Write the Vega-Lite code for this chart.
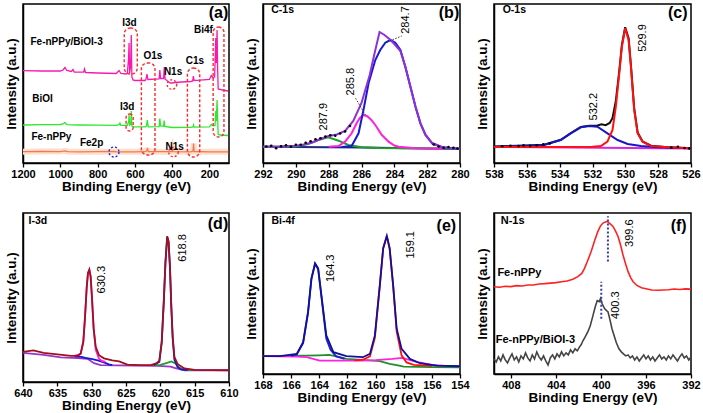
{
"$schema": "https://vega.github.io/schema/vega-lite/v6.json",
"padding": {"left": 3, "top": 3, "right": 0, "bottom": 0},
"config": {
 "view": {"stroke": "black", "strokeWidth": 1.5},
 "font": "Liberation Sans",
 "text": {"color": "black", "font": "Liberation Sans"},
 "axis": {"grid": false, "domainColor": "black", "domainWidth": 1.5, "tickColor": "black", "tickWidth": 1.3, "tickSize": 4, "labelFont": "Liberation Sans", "labelFontWeight": "bold", "labelFontSize": 11, "labelColor": "black", "titleFont": "Liberation Sans", "titleFontWeight": "bold", "titleFontSize": 13.5, "titleColor": "black"},
 "axisX": {"labelPadding": 1, "titlePadding": 0, "labelFlush": false, "labelOverlap": false, "format": "d"},
 "axisY": {"labels": false, "ticks": false, "titlePadding": 5}
},
"datasets": {
 "a": [
  {"x":1200,"y":11.3,"s":"Fe-nPPy"},{"x":1100,"y":11.5,"s":"Fe-nPPy"},{"x":1000,"y":11.4,"s":"Fe-nPPy"},{"x":975,"y":12.2,"s":"Fe-nPPy"},{"x":960,"y":11.3,"s":"Fe-nPPy"},{"x":900,"y":11.2,"s":"Fe-nPPy"},{"x":800,"y":11.3,"s":"Fe-nPPy"},{"x":712,"y":11.6,"s":"Fe-nPPy"},{"x":700,"y":11.2,"s":"Fe-nPPy"},{"x":600,"y":11.2,"s":"Fe-nPPy"},{"x":545,"y":11.3,"s":"Fe-nPPy"},{"x":535,"y":12.5,"s":"Fe-nPPy"},{"x":532,"y":15,"s":"Fe-nPPy"},{"x":529,"y":11.5,"s":"Fe-nPPy"},{"x":500,"y":11.3,"s":"Fe-nPPy"},{"x":402,"y":11.4,"s":"Fe-nPPy"},{"x":399,"y":13.5,"s":"Fe-nPPy"},{"x":396,"y":11.3,"s":"Fe-nPPy"},{"x":300,"y":11.2,"s":"Fe-nPPy"},{"x":288,"y":12,"s":"Fe-nPPy"},{"x":285,"y":19.5,"s":"Fe-nPPy"},{"x":282,"y":11.5,"s":"Fe-nPPy"},{"x":200,"y":11.2,"s":"Fe-nPPy"},{"x":100,"y":11.2,"s":"Fe-nPPy"},
  {"x":1200,"y":38,"s":"BiOI"},{"x":1100,"y":38.3,"s":"BiOI"},{"x":1000,"y":38.5,"s":"BiOI"},{"x":985,"y":39,"s":"BiOI"},{"x":975,"y":40.5,"s":"BiOI"},{"x":965,"y":38.3,"s":"BiOI"},{"x":900,"y":38,"s":"BiOI"},{"x":800,"y":37.8,"s":"BiOI"},{"x":700,"y":37.6,"s":"BiOI"},{"x":685,"y":38.3,"s":"BiOI"},{"x":680,"y":40,"s":"BiOI"},{"x":675,"y":37.6,"s":"BiOI"},{"x":640,"y":37.6,"s":"BiOI"},{"x":633,"y":42,"s":"BiOI"},{"x":631,"y":48,"s":"BiOI"},{"x":628,"y":38,"s":"BiOI"},{"x":622,"y":39,"s":"BiOI"},{"x":619,"y":52,"s":"BiOI"},{"x":616,"y":37,"s":"BiOI"},{"x":610,"y":36.3,"s":"BiOI"},{"x":600,"y":36.2,"s":"BiOI"},{"x":545,"y":36.2,"s":"BiOI"},{"x":538,"y":37,"s":"BiOI"},{"x":533,"y":43,"s":"BiOI"},{"x":528,"y":36.2,"s":"BiOI"},{"x":470,"y":36.4,"s":"BiOI"},{"x":466,"y":44.5,"s":"BiOI"},{"x":462,"y":37,"s":"BiOI"},{"x":446,"y":36.8,"s":"BiOI"},{"x":443,"y":42.5,"s":"BiOI"},{"x":439,"y":36.5,"s":"BiOI"},{"x":400,"y":35.5,"s":"BiOI"},{"x":300,"y":35.6,"s":"BiOI"},{"x":288,"y":36,"s":"BiOI"},{"x":285,"y":38,"s":"BiOI"},{"x":282,"y":35.8,"s":"BiOI"},{"x":200,"y":36.2,"s":"BiOI"},{"x":190,"y":38.5,"s":"BiOI"},{"x":180,"y":37.2,"s":"BiOI"},{"x":170,"y":37.5,"s":"BiOI"},{"x":166,"y":52,"s":"BiOI"},{"x":163,"y":42,"s":"BiOI"},{"x":159,"y":63,"s":"BiOI"},{"x":156,"y":45,"s":"BiOI"},{"x":153,"y":28.5,"s":"BiOI"},{"x":140,"y":28,"s":"BiOI"},{"x":100,"y":27.5,"s":"BiOI"},
  {"x":1200,"y":92.3,"s":"Fe-nPPy/BiOI-3"},{"x":1100,"y":92,"s":"Fe-nPPy/BiOI-3"},{"x":1000,"y":92,"s":"Fe-nPPy/BiOI-3"},{"x":985,"y":93,"s":"Fe-nPPy/BiOI-3"},{"x":975,"y":95.5,"s":"Fe-nPPy/BiOI-3"},{"x":965,"y":92.5,"s":"Fe-nPPy/BiOI-3"},{"x":940,"y":91.5,"s":"Fe-nPPy/BiOI-3"},{"x":932,"y":93.5,"s":"Fe-nPPy/BiOI-3"},{"x":925,"y":91,"s":"Fe-nPPy/BiOI-3"},{"x":875,"y":90.8,"s":"Fe-nPPy/BiOI-3"},{"x":870,"y":94,"s":"Fe-nPPy/BiOI-3"},{"x":865,"y":90.5,"s":"Fe-nPPy/BiOI-3"},{"x":800,"y":90,"s":"Fe-nPPy/BiOI-3"},{"x":700,"y":89.5,"s":"Fe-nPPy/BiOI-3"},{"x":685,"y":92.5,"s":"Fe-nPPy/BiOI-3"},{"x":675,"y":89.5,"s":"Fe-nPPy/BiOI-3"},{"x":645,"y":89,"s":"Fe-nPPy/BiOI-3"},{"x":640,"y":90,"s":"Fe-nPPy/BiOI-3"},{"x":634,"y":104,"s":"Fe-nPPy/BiOI-3"},{"x":631,"y":120,"s":"Fe-nPPy/BiOI-3"},{"x":628,"y":90,"s":"Fe-nPPy/BiOI-3"},{"x":623,"y":96,"s":"Fe-nPPy/BiOI-3"},{"x":619,"y":128,"s":"Fe-nPPy/BiOI-3"},{"x":616,"y":86,"s":"Fe-nPPy/BiOI-3"},{"x":610,"y":83,"s":"Fe-nPPy/BiOI-3"},{"x":600,"y":82.5,"s":"Fe-nPPy/BiOI-3"},{"x":545,"y":82.5,"s":"Fe-nPPy/BiOI-3"},{"x":540,"y":84,"s":"Fe-nPPy/BiOI-3"},{"x":535,"y":89,"s":"Fe-nPPy/BiOI-3"},{"x":530,"y":83.5,"s":"Fe-nPPy/BiOI-3"},{"x":470,"y":84,"s":"Fe-nPPy/BiOI-3"},{"x":466,"y":93,"s":"Fe-nPPy/BiOI-3"},{"x":462,"y":84.5,"s":"Fe-nPPy/BiOI-3"},{"x":446,"y":84.5,"s":"Fe-nPPy/BiOI-3"},{"x":442,"y":96,"s":"Fe-nPPy/BiOI-3"},{"x":438,"y":84,"s":"Fe-nPPy/BiOI-3"},{"x":425,"y":82,"s":"Fe-nPPy/BiOI-3"},{"x":410,"y":80,"s":"Fe-nPPy/BiOI-3"},{"x":400,"y":80,"s":"Fe-nPPy/BiOI-3"},{"x":385,"y":80.5,"s":"Fe-nPPy/BiOI-3"},{"x":350,"y":81,"s":"Fe-nPPy/BiOI-3"},{"x":300,"y":81.5,"s":"Fe-nPPy/BiOI-3"},{"x":290,"y":82,"s":"Fe-nPPy/BiOI-3"},{"x":286,"y":87,"s":"Fe-nPPy/BiOI-3"},{"x":282,"y":82.5,"s":"Fe-nPPy/BiOI-3"},{"x":250,"y":82.8,"s":"Fe-nPPy/BiOI-3"},{"x":200,"y":83.5,"s":"Fe-nPPy/BiOI-3"},{"x":190,"y":87.5,"s":"Fe-nPPy/BiOI-3"},{"x":180,"y":85,"s":"Fe-nPPy/BiOI-3"},{"x":172,"y":86,"s":"Fe-nPPy/BiOI-3"},{"x":166,"y":125,"s":"Fe-nPPy/BiOI-3"},{"x":163,"y":100,"s":"Fe-nPPy/BiOI-3"},{"x":159,"y":133,"s":"Fe-nPPy/BiOI-3"},{"x":156,"y":95,"s":"Fe-nPPy/BiOI-3"},{"x":153,"y":74,"s":"Fe-nPPy/BiOI-3"},{"x":130,"y":73,"s":"Fe-nPPy/BiOI-3"},{"x":100,"y":72,"s":"Fe-nPPy/BiOI-3"}
 ],
 "aE": [
  {"x":657,"x2":587,"y":135,"y2":89,"k":"tall"},
  {"x":565,"x2":492,"y":100,"y2":8,"k":"tall"},
  {"x":318,"x2":252,"y":95,"y2":6,"k":"tall"},
  {"x":180,"x2":122,"y":136,"y2":26,"k":"tall"},
  {"x":647,"x2":609,"y":49,"y2":32,"k":"thin"}
 ],
 "aC": [
  {"x":401,"y":78.5,"t":"N1s"},
  {"x":393,"y":11,"t":"N1s"},
  {"x":712,"y":11,"t":"Fe2p"}
 ],
 "aT": [
  {"x":1160,"y":121,"t":"Fe-nPPy/BiOI-3","k":"lab"},
  {"x":1150,"y":64,"t":"BiOI","k":"lab"},
  {"x":1155,"y":26,"t":"Fe-nPPy","k":"lab"},
  {"x":832,"y":19.7,"t":"Fe2p","k":"cen"},
  {"x":629,"y":140.3,"t":"I3d","k":"cen"},
  {"x":641,"y":55.7,"t":"I3d","k":"cen"},
  {"x":503,"y":107,"t":"O1s","k":"cen"},
  {"x":395,"y":91.3,"t":"N1s","k":"cen"},
  {"x":278,"y":102,"t":"C1s","k":"cen"},
  {"x":232,"y":133,"t":"Bi4f","k":"cen"},
  {"x":386,"y":16.3,"t":"N1s","k":"cen"},
  {"x":151,"y":149.7,"t":"(a)","k":"let"}
 ],
 "b": [
  {"x":292,"y":16.3,"s":"base"},{"x":286,"y":15.5,"s":"base"},{"x":280,"y":14,"s":"base"},
  {"x":292,"y":16.3,"s":"green"},{"x":290.06,"y":16.5,"s":"green"},{"x":289.24,"y":19,"s":"green"},{"x":288.63,"y":23,"s":"green"},{"x":288.02,"y":25.7,"s":"green"},{"x":287.4,"y":22.3,"s":"green"},{"x":286.8,"y":18,"s":"green"},{"x":285.98,"y":15.7,"s":"green"},{"x":284.96,"y":14.9,"s":"green"},{"x":282,"y":14.5,"s":"green"},{"x":280,"y":14.2,"s":"green"},
  {"x":288,"y":16.3,"s":"pink"},{"x":287.4,"y":17,"s":"pink"},{"x":287,"y":21.3,"s":"pink"},{"x":286.6,"y":29.7,"s":"pink"},{"x":286.3,"y":39.7,"s":"pink"},{"x":286.1,"y":45,"s":"pink"},{"x":285.88,"y":48,"s":"pink"},{"x":285.65,"y":46.8,"s":"pink"},{"x":285.4,"y":43,"s":"pink"},{"x":285.16,"y":38,"s":"pink"},{"x":284.76,"y":28,"s":"pink"},{"x":284.35,"y":21.3,"s":"pink"},{"x":284,"y":17.5,"s":"pink"},{"x":283.73,"y":16.3,"s":"pink"},{"x":282.7,"y":14.7,"s":"pink"},{"x":281,"y":14.3,"s":"pink"},
  {"x":287.2,"y":16,"s":"blue"},{"x":286.6,"y":17,"s":"blue"},{"x":286.18,"y":29.7,"s":"blue"},{"x":285.88,"y":53,"s":"blue"},{"x":285.57,"y":79.7,"s":"blue"},{"x":285.16,"y":103,"s":"blue"},{"x":284.86,"y":113,"s":"blue"},{"x":284.55,"y":120.3,"s":"blue"},{"x":284.24,"y":123,"s":"blue"},{"x":283.94,"y":120.3,"s":"blue"},{"x":283.63,"y":113,"s":"blue"},{"x":283.33,"y":96.3,"s":"blue"},{"x":283.02,"y":76.3,"s":"blue"},{"x":282.71,"y":56.3,"s":"blue"},{"x":282.41,"y":39.7,"s":"blue"},{"x":282.1,"y":28,"s":"blue"},{"x":281.69,"y":19.7,"s":"blue"},{"x":281.08,"y":15.7,"s":"blue"},{"x":280,"y":14,"s":"blue"},
  {"x":292,"y":16.3,"s":"env"},{"x":291,"y":16.5,"s":"env"},{"x":290,"y":17.3,"s":"env"},{"x":289.5,"y":18.5,"s":"env"},{"x":289,"y":20.5,"s":"env"},{"x":288.5,"y":24,"s":"env"},{"x":288,"y":27,"s":"env"},{"x":287.5,"y":28.5,"s":"env"},{"x":287,"y":32,"s":"env"},{"x":286.5,"y":42,"s":"env"},{"x":286,"y":60,"s":"env"},{"x":285.5,"y":88,"s":"env"},{"x":285.2,"y":110,"s":"env"},{"x":284.9,"y":131,"s":"env"},{"x":284.6,"y":128,"s":"env"},{"x":284.3,"y":124,"s":"env"},{"x":284,"y":119,"s":"env"},{"x":283.63,"y":112,"s":"env"},{"x":283.33,"y":96.3,"s":"env"},{"x":283.02,"y":76.3,"s":"env"},{"x":282.71,"y":56.3,"s":"env"},{"x":282.41,"y":39.7,"s":"env"},{"x":282.1,"y":28,"s":"env"},{"x":281.69,"y":19.7,"s":"env"},{"x":281.08,"y":15.7,"s":"env"},{"x":280,"y":14,"s":"env"}
 ],
 "bD": [
  {"x":291.8,"y":16.5},{"x":291.5,"y":17.2},{"x":291.2,"y":14.8},{"x":290.9,"y":16.6},{"x":290.6,"y":17.8},{"x":290.3,"y":16.2},{"x":290,"y":18.2},{"x":289.7,"y":18.3},{"x":289.4,"y":20.3},{"x":289.1,"y":21.8},{"x":288.8,"y":23.7},{"x":288.5,"y":24.8},{"x":288.2,"y":26.4},{"x":287.9,"y":27.8},{"x":287.6,"y":27.2},{"x":287.3,"y":29.5},{"x":287,"y":31.5},{"x":286.7,"y":37},{"x":281.6,"y":18.5},{"x":281.3,"y":16.5},{"x":281,"y":15.2},{"x":280.7,"y":16},{"x":280.4,"y":15.3},{"x":280.15,"y":14.5}
 ],
 "bL": [
  {"x":284.45,"y":121,"x2":283.55,"y2":127},
  {"x":286.36,"y":64.7,"x2":285.76,"y2":48}
 ],
 "bT": [
  {"x":291.5,"y":153,"t":"C-1s","k":"lab"},
  {"x":280.67,"y":150,"t":"(b)","k":"let"},
  {"x":283.29,"y":143,"t":"284.7","k":"num"},
  {"x":286.66,"y":81.3,"t":"285.8","k":"num"},
  {"x":288.28,"y":46.3,"t":"287.9","k":"num"}
 ],
 "c": [
  {"x":538,"y":16,"s":"base"},{"x":526,"y":14.5,"s":"base"},
  {"x":538,"y":16.5,"s":"env"},{"x":536,"y":17.5,"s":"env"},{"x":534.95,"y":18.3,"s":"env"},{"x":533.93,"y":23.2,"s":"env"},{"x":533.32,"y":30,"s":"env"},{"x":532.71,"y":36,"s":"env"},{"x":532.2,"y":37.3,"s":"env"},{"x":531.7,"y":37.6,"s":"env"},{"x":531.45,"y":38.7,"s":"env"},{"x":531.2,"y":37.8,"s":"env"},{"x":530.95,"y":40,"s":"env"},{"x":530.78,"y":45,"s":"env"},{"x":530.58,"y":62,"s":"env"},{"x":530.37,"y":92,"s":"env"},{"x":530.21,"y":118,"s":"env"},{"x":530.01,"y":135.7,"s":"env"},{"x":529.8,"y":124.7,"s":"env"},{"x":529.66,"y":98,"s":"env"},{"x":529.46,"y":54.7,"s":"env"},{"x":529.25,"y":30.5,"s":"env"},{"x":528.95,"y":21.5,"s":"env"},{"x":528.44,"y":17.3,"s":"env"},{"x":527.42,"y":15.8,"s":"env"},{"x":526,"y":14.8,"s":"env"},
  {"x":538,"y":16.3,"s":"blue"},{"x":536,"y":17.2,"s":"blue"},{"x":534.95,"y":18,"s":"blue"},{"x":533.93,"y":23,"s":"blue"},{"x":533.32,"y":29.7,"s":"blue"},{"x":532.71,"y":35.7,"s":"blue"},{"x":532.2,"y":37,"s":"blue"},{"x":531.7,"y":36.3,"s":"blue"},{"x":531.09,"y":29.7,"s":"blue"},{"x":530.47,"y":23,"s":"blue"},{"x":529.86,"y":19,"s":"blue"},{"x":529.05,"y":17,"s":"blue"},{"x":528,"y":15.7,"s":"blue"},{"x":526,"y":14.7,"s":"blue"},
  {"x":538,"y":16,"s":"red"},{"x":532,"y":16.2,"s":"red"},{"x":531.49,"y":17,"s":"red"},{"x":531.09,"y":21.3,"s":"red"},{"x":530.78,"y":33,"s":"red"},{"x":530.58,"y":56.3,"s":"red"},{"x":530.37,"y":89.7,"s":"red"},{"x":530.21,"y":116.3,"s":"red"},{"x":530.01,"y":134.7,"s":"red"},{"x":529.8,"y":123,"s":"red"},{"x":529.66,"y":96.3,"s":"red"},{"x":529.46,"y":53,"s":"red"},{"x":529.25,"y":29.7,"s":"red"},{"x":528.95,"y":21.3,"s":"red"},{"x":528.44,"y":17,"s":"red"},{"x":527.42,"y":15.7,"s":"red"},{"x":526,"y":14.7,"s":"red"}
 ],
 "cD": [
  {"x":537.5,"y":16.8},{"x":537,"y":17.3},{"x":536.5,"y":16.9},{"x":536.2,"y":17.6},{"x":535.8,"y":17.1},{"x":535.4,"y":17.8},{"x":535,"y":18.6},{"x":534.6,"y":19.5},{"x":527.2,"y":15.5},{"x":526.8,"y":16.2},{"x":526.4,"y":15},{"x":526.1,"y":14.6}
 ],
 "cT": [
  {"x":537.47,"y":153,"t":"O-1s","k":"lab"},
  {"x":526.81,"y":150,"t":"(c)","k":"let"},
  {"x":528.94,"y":125,"t":"529.9","k":"num"},
  {"x":531.89,"y":56.3,"t":"532.2","k":"num"}
 ],
 "d": [
  {"x":640,"y":29,"s":"purple"},{"x":637,"y":27,"s":"purple"},{"x":634.5,"y":24.5,"s":"purple"},{"x":632,"y":23.8,"s":"purple"},{"x":630.6,"y":23,"s":"purple"},{"x":629.66,"y":18.7,"s":"purple"},{"x":628.7,"y":16.7,"s":"purple"},{"x":624,"y":16.4,"s":"purple"},{"x":620.4,"y":16,"s":"purple"},{"x":618.5,"y":15.2,"s":"purple"},{"x":617.95,"y":14,"s":"purple"},{"x":616.5,"y":11.7,"s":"purple"},{"x":610,"y":11.7,"s":"purple"},
  {"x":621,"y":16.7,"s":"green"},{"x":620,"y":17,"s":"green"},{"x":619,"y":19,"s":"green"},{"x":618.4,"y":20.5,"s":"green"},{"x":617.8,"y":18.5,"s":"green"},{"x":617.2,"y":14,"s":"green"},{"x":616.5,"y":12.3,"s":"green"},{"x":615,"y":11.8,"s":"green"},
  {"x":632.5,"y":25.5,"s":"blue1"},{"x":631.5,"y":25,"s":"blue1"},{"x":630.9,"y":24,"s":"blue1"},{"x":629.9,"y":22.7,"s":"blue1"},{"x":629,"y":21.3,"s":"blue1"},{"x":628.43,"y":20,"s":"blue1"},{"x":627.95,"y":18.7,"s":"blue1"},{"x":627.5,"y":17.5,"s":"blue1"},{"x":627,"y":16.8,"s":"blue1"},
  {"x":621,"y":16.7,"s":"blue2"},{"x":620.15,"y":20,"s":"blue2"},{"x":619.8,"y":39,"s":"blue2"},{"x":619.5,"y":79,"s":"blue2"},{"x":619.25,"y":119,"s":"blue2"},{"x":619,"y":144,"s":"blue2"},{"x":618.8,"y":139,"s":"blue2"},{"x":618.6,"y":114,"s":"blue2"},{"x":618.4,"y":74,"s":"blue2"},{"x":618.2,"y":43,"s":"blue2"},{"x":617.95,"y":22,"s":"blue2"},{"x":617.5,"y":15,"s":"blue2"},{"x":617,"y":12.5,"s":"blue2"},{"x":616,"y":11.8,"s":"blue2"},
  {"x":632.5,"y":26,"s":"pink"},{"x":631.6,"y":28,"s":"pink"},{"x":631.22,"y":39.5,"s":"pink"},{"x":630.98,"y":63,"s":"pink"},{"x":630.73,"y":93,"s":"pink"},{"x":630.54,"y":108,"s":"pink"},{"x":630.34,"y":111.5,"s":"pink"},{"x":630.15,"y":104.5,"s":"pink"},{"x":629.95,"y":83,"s":"pink"},{"x":629.71,"y":52.5,"s":"pink"},{"x":629.41,"y":32,"s":"pink"},{"x":628.93,"y":23,"s":"pink"},{"x":628.5,"y":21,"s":"pink"},{"x":628,"y":20,"s":"pink"},
  {"x":640,"y":30,"s":"env"},{"x":638.5,"y":31.5,"s":"env"},{"x":637,"y":29,"s":"env"},{"x":635,"y":27.5,"s":"env"},{"x":633,"y":26,"s":"env"},{"x":632,"y":26,"s":"env"},{"x":631.6,"y":28.3,"s":"env"},{"x":631.22,"y":40,"s":"env"},{"x":630.98,"y":63.3,"s":"env"},{"x":630.73,"y":93.3,"s":"env"},{"x":630.54,"y":108.3,"s":"env"},{"x":630.34,"y":111.7,"s":"env"},{"x":630.15,"y":105,"s":"env"},{"x":629.95,"y":83.3,"s":"env"},{"x":629.71,"y":53.3,"s":"env"},{"x":629.41,"y":35,"s":"env"},{"x":628.93,"y":26.7,"s":"env"},{"x":628.2,"y":23.5,"s":"env"},{"x":627,"y":21.5,"s":"env"},{"x":626,"y":20.5,"s":"env"},{"x":624.8,"y":17.3,"s":"env"},{"x":623,"y":16.7,"s":"env"},{"x":621.4,"y":16.7,"s":"env"},{"x":620.6,"y":18.5,"s":"env"},{"x":620.15,"y":21,"s":"env"},{"x":619.8,"y":40,"s":"env"},{"x":619.5,"y":80,"s":"env"},{"x":619.25,"y":120,"s":"env"},{"x":619,"y":145,"s":"env"},{"x":618.8,"y":140,"s":"env"},{"x":618.6,"y":115,"s":"env"},{"x":618.4,"y":75,"s":"env"},{"x":618.2,"y":45,"s":"env"},{"x":617.95,"y":25,"s":"env"},{"x":617.5,"y":18,"s":"env"},{"x":616.5,"y":13.5,"s":"env"},{"x":615,"y":12,"s":"env"},{"x":610,"y":11.7,"s":"env"}
 ],
 "dT": [
  {"x":639.2,"y":160,"t":"I-3d","k":"lab"},
  {"x":611.6,"y":157,"t":"(d)","k":"let"},
  {"x":628.43,"y":101.7,"t":"630.3","k":"num"},
  {"x":616.72,"y":133.3,"t":"618.8","k":"num"}
 ],
 "e": [
  {"x":168,"y":17.7,"s":"green"},{"x":165,"y":18.2,"s":"green"},{"x":164,"y":18.6,"s":"green"},{"x":163.3,"y":19,"s":"green"},{"x":162.6,"y":17,"s":"green"},{"x":162.07,"y":15,"s":"green"},{"x":161,"y":14,"s":"green"},{"x":159.7,"y":12.7,"s":"green"},{"x":159,"y":10,"s":"green"},{"x":158.5,"y":8.8,"s":"green"},{"x":158,"y":7.4,"s":"green"},{"x":156,"y":6.9,"s":"green"},{"x":154,"y":6.7,"s":"green"},
  {"x":168,"y":17.7,"s":"pink"},{"x":165.6,"y":17.2,"s":"pink"},{"x":164.9,"y":16.7,"s":"pink"},{"x":163.97,"y":13.3,"s":"pink"},{"x":163,"y":13.2,"s":"pink"},{"x":161,"y":13.3,"s":"pink"},{"x":160,"y":13.8,"s":"pink"},{"x":158.8,"y":15,"s":"pink"},{"x":158.1,"y":16,"s":"pink"},{"x":157.6,"y":14,"s":"pink"},{"x":157,"y":11.7,"s":"pink"},{"x":156,"y":9,"s":"pink"},{"x":155,"y":8,"s":"pink"},{"x":154,"y":7.7,"s":"pink"},
  {"x":166,"y":18,"s":"blue1"},{"x":165.6,"y":19.5,"s":"blue1"},{"x":165.15,"y":30.5,"s":"blue1"},{"x":164.8,"y":60.5,"s":"blue1"},{"x":164.56,"y":94,"s":"blue1"},{"x":164.3,"y":109.3,"s":"blue1"},{"x":164.08,"y":104,"s":"blue1"},{"x":163.85,"y":77,"s":"blue1"},{"x":163.5,"y":35,"s":"blue1"},{"x":163.2,"y":24,"s":"blue1"},{"x":162.8,"y":17.5,"s":"blue1"},{"x":162.2,"y":15,"s":"blue1"},
  {"x":161.5,"y":13.5,"s":"red"},{"x":160.9,"y":14.2,"s":"red"},{"x":160.4,"y":17.5,"s":"red"},{"x":160.05,"y":36,"s":"red"},{"x":159.7,"y":87,"s":"red"},{"x":159.46,"y":124.5,"s":"red"},{"x":159.2,"y":137,"s":"red"},{"x":159,"y":124.5,"s":"red"},{"x":158.75,"y":87,"s":"red"},{"x":158.5,"y":42,"s":"red"},{"x":158.15,"y":18.5,"s":"red"},{"x":157.8,"y":11.5,"s":"red"},{"x":157.3,"y":9,"s":"red"},{"x":156,"y":8,"s":"red"},
  {"x":168,"y":17.7,"s":"env"},{"x":166.8,"y":17.7,"s":"env"},{"x":165.6,"y":20,"s":"env"},{"x":165.15,"y":31.7,"s":"env"},{"x":164.8,"y":61.7,"s":"env"},{"x":164.56,"y":95,"s":"env"},{"x":164.3,"y":110,"s":"env"},{"x":164.08,"y":105,"s":"env"},{"x":163.85,"y":78.3,"s":"env"},{"x":163.5,"y":38.3,"s":"env"},{"x":163,"y":21.7,"s":"env"},{"x":162.07,"y":17.7,"s":"env"},{"x":160.9,"y":16.7,"s":"env"},{"x":160.4,"y":20,"s":"env"},{"x":160.05,"y":38.3,"s":"env"},{"x":159.7,"y":88.3,"s":"env"},{"x":159.46,"y":125,"s":"env"},{"x":159.2,"y":137.4,"s":"env"},{"x":159,"y":125,"s":"env"},{"x":158.75,"y":88.3,"s":"env"},{"x":158.5,"y":45,"s":"env"},{"x":158.15,"y":25,"s":"env"},{"x":157.56,"y":15,"s":"env"},{"x":156.85,"y":10.7,"s":"env"},{"x":155.66,"y":8.3,"s":"env"},{"x":154,"y":7.7,"s":"env"}
 ],
 "eT": [
  {"x":167.4,"y":151.7,"t":"Bi-4f","k":"lab"},
  {"x":154.97,"y":146.7,"t":"(e)","k":"let"},
  {"x":163.14,"y":105,"t":"164.3","k":"num"},
  {"x":157.45,"y":128.4,"t":"159.1","k":"num"}
 ],
 "f": [
  {"x":409.5,"y":86.7,"s":"Fe-nPPy"},{"x":409,"y":86.2,"s":"Fe-nPPy"},{"x":408.5,"y":87.2,"s":"Fe-nPPy"},{"x":408,"y":86.8,"s":"Fe-nPPy"},{"x":407.5,"y":87.8,"s":"Fe-nPPy"},{"x":407,"y":87.5,"s":"Fe-nPPy"},{"x":406.5,"y":88.4,"s":"Fe-nPPy"},{"x":406,"y":88.5,"s":"Fe-nPPy"},{"x":405.5,"y":89.5,"s":"Fe-nPPy"},{"x":405,"y":89.8,"s":"Fe-nPPy"},{"x":404.5,"y":90.3,"s":"Fe-nPPy"},{"x":404,"y":90.8,"s":"Fe-nPPy"},{"x":403.5,"y":91.6,"s":"Fe-nPPy"},{"x":403,"y":92.5,"s":"Fe-nPPy"},{"x":402.5,"y":94.2,"s":"Fe-nPPy"},{"x":402.05,"y":96.7,"s":"Fe-nPPy"},{"x":401.7,"y":100,"s":"Fe-nPPy"},{"x":401.46,"y":105,"s":"Fe-nPPy"},{"x":401.2,"y":112,"s":"Fe-nPPy"},{"x":400.87,"y":121.7,"s":"Fe-nPPy"},{"x":400.55,"y":133,"s":"Fe-nPPy"},{"x":400.27,"y":141.7,"s":"Fe-nPPy"},{"x":400.05,"y":147,"s":"Fe-nPPy"},{"x":399.82,"y":150,"s":"Fe-nPPy"},{"x":399.6,"y":151,"s":"Fe-nPPy"},{"x":399.44,"y":151.7,"s":"Fe-nPPy"},{"x":399.2,"y":149.5,"s":"Fe-nPPy"},{"x":398.93,"y":146.7,"s":"Fe-nPPy"},{"x":398.7,"y":142,"s":"Fe-nPPy"},{"x":398.48,"y":136.7,"s":"Fe-nPPy"},{"x":398.25,"y":128,"s":"Fe-nPPy"},{"x":398.04,"y":118.3,"s":"Fe-nPPy"},{"x":397.8,"y":109,"s":"Fe-nPPy"},{"x":397.59,"y":101.7,"s":"Fe-nPPy"},{"x":397.35,"y":95.5,"s":"Fe-nPPy"},{"x":397.14,"y":91.7,"s":"Fe-nPPy"},{"x":396.8,"y":88,"s":"Fe-nPPy"},{"x":396.4,"y":85.7,"s":"Fe-nPPy"},{"x":396,"y":84.8,"s":"Fe-nPPy"},{"x":395.5,"y":83.5,"s":"Fe-nPPy"},{"x":394.9,"y":83.3,"s":"Fe-nPPy"},{"x":394,"y":83.8,"s":"Fe-nPPy"},{"x":393.5,"y":84.5,"s":"Fe-nPPy"},{"x":393,"y":84,"s":"Fe-nPPy"},{"x":392.5,"y":84.6,"s":"Fe-nPPy"},{"x":392,"y":84.3,"s":"Fe-nPPy"},
  {"x":409.5,"y":15,"s":"BiOI-3"},{"x":409.3,"y":12,"s":"BiOI-3"},{"x":409.1,"y":17,"s":"BiOI-3"},{"x":408.9,"y":13,"s":"BiOI-3"},{"x":408.7,"y":19,"s":"BiOI-3"},{"x":408.5,"y":14,"s":"BiOI-3"},{"x":408.3,"y":11,"s":"BiOI-3"},{"x":408.1,"y":16,"s":"BiOI-3"},{"x":407.9,"y":20,"s":"BiOI-3"},{"x":407.7,"y":14,"s":"BiOI-3"},{"x":407.5,"y":17,"s":"BiOI-3"},{"x":407.3,"y":12,"s":"BiOI-3"},{"x":407.1,"y":18,"s":"BiOI-3"},{"x":406.9,"y":15,"s":"BiOI-3"},{"x":406.7,"y":21,"s":"BiOI-3"},{"x":406.5,"y":16,"s":"BiOI-3"},{"x":406.3,"y":13,"s":"BiOI-3"},{"x":406.1,"y":19,"s":"BiOI-3"},{"x":405.9,"y":15,"s":"BiOI-3"},{"x":405.7,"y":22,"s":"BiOI-3"},{"x":405.5,"y":17,"s":"BiOI-3"},{"x":405.3,"y":14,"s":"BiOI-3"},{"x":405.1,"y":18,"s":"BiOI-3"},{"x":404.9,"y":13,"s":"BiOI-3"},{"x":404.7,"y":9,"s":"BiOI-3"},{"x":404.5,"y":16,"s":"BiOI-3"},{"x":404.3,"y":19,"s":"BiOI-3"},{"x":404.1,"y":15,"s":"BiOI-3"},{"x":403.9,"y":20,"s":"BiOI-3"},{"x":403.7,"y":17,"s":"BiOI-3"},{"x":403.5,"y":22,"s":"BiOI-3"},{"x":403.3,"y":18,"s":"BiOI-3"},{"x":403.1,"y":21,"s":"BiOI-3"},{"x":402.9,"y":19,"s":"BiOI-3"},{"x":402.7,"y":24,"s":"BiOI-3"},{"x":402.5,"y":21,"s":"BiOI-3"},{"x":402.3,"y":25,"s":"BiOI-3"},{"x":402.1,"y":23,"s":"BiOI-3"},{"x":401.9,"y":27,"s":"BiOI-3"},{"x":401.76,"y":29,"s":"BiOI-3"},{"x":401.6,"y":33,"s":"BiOI-3"},{"x":401.4,"y":37,"s":"BiOI-3"},{"x":401.16,"y":42,"s":"BiOI-3"},{"x":400.95,"y":48,"s":"BiOI-3"},{"x":400.71,"y":58,"s":"BiOI-3"},{"x":400.5,"y":67,"s":"BiOI-3"},{"x":400.33,"y":73,"s":"BiOI-3"},{"x":400.15,"y":72,"s":"BiOI-3"},{"x":400.04,"y":75,"s":"BiOI-3"},{"x":399.9,"y":70,"s":"BiOI-3"},{"x":399.68,"y":65,"s":"BiOI-3"},{"x":399.5,"y":63,"s":"BiOI-3"},{"x":399.38,"y":62,"s":"BiOI-3"},{"x":399.2,"y":54,"s":"BiOI-3"},{"x":399.02,"y":45,"s":"BiOI-3"},{"x":398.8,"y":37,"s":"BiOI-3"},{"x":398.63,"y":31,"s":"BiOI-3"},{"x":398.4,"y":25,"s":"BiOI-3"},{"x":398.19,"y":22,"s":"BiOI-3"},{"x":398,"y":20,"s":"BiOI-3"},{"x":397.8,"y":18,"s":"BiOI-3"},{"x":397.59,"y":19,"s":"BiOI-3"},{"x":397.4,"y":16,"s":"BiOI-3"},{"x":397.2,"y":18,"s":"BiOI-3"},{"x":397,"y":14,"s":"BiOI-3"},{"x":396.8,"y":17,"s":"BiOI-3"},{"x":396.6,"y":13,"s":"BiOI-3"},{"x":396.4,"y":16,"s":"BiOI-3"},{"x":396.2,"y":19,"s":"BiOI-3"},{"x":396,"y":15,"s":"BiOI-3"},{"x":395.8,"y":18,"s":"BiOI-3"},{"x":395.6,"y":14,"s":"BiOI-3"},{"x":395.4,"y":17,"s":"BiOI-3"},{"x":395.2,"y":13,"s":"BiOI-3"},{"x":395,"y":16,"s":"BiOI-3"},{"x":394.8,"y":19,"s":"BiOI-3"},{"x":394.6,"y":15,"s":"BiOI-3"},{"x":394.4,"y":17,"s":"BiOI-3"},{"x":394.2,"y":14,"s":"BiOI-3"},{"x":394,"y":18,"s":"BiOI-3"},{"x":393.8,"y":15,"s":"BiOI-3"},{"x":393.6,"y":19,"s":"BiOI-3"},{"x":393.4,"y":16,"s":"BiOI-3"},{"x":393.2,"y":13,"s":"BiOI-3"},{"x":393,"y":17,"s":"BiOI-3"},{"x":392.8,"y":20,"s":"BiOI-3"},{"x":392.6,"y":16,"s":"BiOI-3"},{"x":392.4,"y":18,"s":"BiOI-3"},{"x":392.2,"y":14,"s":"BiOI-3"},{"x":392,"y":17,"s":"BiOI-3"}
 ],
 "fL": [
  {"x":399.38,"y":111.7,"y2":156.7},
  {"x":399.97,"y":55,"y2":91.7}
 ],
 "fT": [
  {"x":408.9,"y":151.7,"t":"N-1s","k":"lab"},
  {"x":393.1,"y":146.7,"t":"(f)","k":"let"},
  {"x":409.2,"y":100.7,"t":"Fe-nPPy","k":"lab"},
  {"x":409.35,"y":33.7,"t":"Fe-nPPy/BiOI-3","k":"lab"},
  {"x":397.45,"y":140,"t":"399.6","k":"num"},
  {"x":398.63,"y":68.4,"t":"400.3","k":"num"}
 ]
},
"spacing": 18,
"resolve": {"scale": {"color": "independent", "strokeWidth": "independent"}},
"vconcat": [
 {"hconcat": [
  {"width": 206, "height": 159,
   "encoding": {
    "x": {"field": "x", "type": "quantitative", "scale": {"domain": [1200, 95], "nice": false, "zero": false}, "axis": {"title": "Binding Energy (eV)", "values": [1200, 1000, 800, 600, 400, 200]}},
    "y": {"field": "y", "type": "quantitative", "scale": {"domain": [0, 159], "nice": false, "zero": false}, "axis": {"title": "Intensity (a.u.)"}}
   },
   "layer": [
    {"data": {"name": "a"}, "transform": [{"filter": "datum.s === 'Fe-nPPy'"}], "mark": {"type": "line", "color": "#fde0cb", "strokeWidth": 6}},
    {"data": {"name": "a"}, "mark": {"type": "line", "strokeWidth": 1.3}, "encoding": {"color": {"field": "s", "type": "nominal", "scale": {"domain": ["Fe-nPPy", "BiOI", "Fe-nPPy/BiOI-3"], "range": ["#f07a55", "#2ee82e", "#f81ab0"]}, "legend": null}}},
    {"data": {"name": "aE"}, "transform": [{"filter": "datum.k === 'tall'"}], "mark": {"type": "rect", "fill": "white", "fillOpacity": 0, "stroke": "#ff2b2b", "strokeWidth": 1.4, "strokeDash": [3, 2], "cornerRadius": 6}, "encoding": {"x2": {"field": "x2"}, "y2": {"field": "y2"}}},
    {"data": {"name": "aE"}, "transform": [{"filter": "datum.k === 'thin'"}], "mark": {"type": "rect", "fill": "white", "fillOpacity": 0, "stroke": "#ff2b2b", "strokeWidth": 1.4, "strokeDash": [3, 2], "cornerRadius": 3.5}, "encoding": {"x2": {"field": "x2"}, "y2": {"field": "y2"}}},
    {"data": {"name": "aC"}, "transform": [{"filter": "datum.t === 'N1s'"}], "mark": {"type": "point", "shape": "circle", "size": 90, "filled": false, "color": "#ff2b2b", "strokeWidth": 1.4, "strokeDash": [2, 2], "opacity": 1}},
    {"data": {"name": "aC"}, "transform": [{"filter": "datum.t === 'Fe2p'"}], "mark": {"type": "point", "shape": "circle", "size": 100, "filled": false, "color": "#2a2ad0", "strokeWidth": 1.4, "strokeDash": [2, 2], "opacity": 1}},
    {"data": {"name": "aT"}, "transform": [{"filter": "datum.k === 'lab'"}], "mark": {"type": "text", "align": "left", "baseline": "middle", "fontWeight": "bold", "fontSize": 10}, "encoding": {"text": {"field": "t"}}},
    {"data": {"name": "aT"}, "transform": [{"filter": "datum.k === 'cen'"}], "mark": {"type": "text", "align": "center", "baseline": "middle", "fontWeight": "bold", "fontSize": 10}, "encoding": {"text": {"field": "t"}}},
    {"data": {"name": "aT"}, "transform": [{"filter": "datum.k === 'let'"}], "mark": {"type": "text", "align": "center", "baseline": "middle", "fontWeight": "bold", "fontSize": 16}, "encoding": {"text": {"field": "t"}}}
   ]
  },
  {"width": 197, "height": 159,
   "encoding": {
    "x": {"field": "x", "type": "quantitative", "scale": {"domain": [292, 280], "nice": false, "zero": false}, "axis": {"title": "Binding Energy (eV)", "values": [292, 290, 288, 286, 284, 282, 280]}},
    "y": {"field": "y", "type": "quantitative", "scale": {"domain": [0, 159], "nice": false, "zero": false}, "axis": {"title": "Intensity (a.u.)"}}
   },
   "layer": [
    {"data": {"name": "b"}, "mark": {"type": "line", "strokeWidth": 2}, "encoding": {"color": {"field": "s", "type": "nominal", "scale": {"domain": ["base", "green", "pink", "blue", "env"], "range": ["#1c2a80", "#1f9e2a", "#ff22dd", "#1818d8", "#9030d8"]}, "legend": null}}},
    {"data": {"name": "bD"}, "mark": {"type": "point", "shape": "circle", "filled": true, "size": 7, "color": "black", "opacity": 1}},
    {"data": {"name": "bL"}, "mark": {"type": "rule", "color": "#333333", "strokeWidth": 1, "strokeDash": [1.5, 1.5]}, "encoding": {"x2": {"field": "x2"}, "y2": {"field": "y2"}}},
    {"data": {"name": "bT"}, "transform": [{"filter": "datum.k === 'lab'"}], "mark": {"type": "text", "align": "left", "baseline": "middle", "fontWeight": "bold", "fontSize": 10.5}, "encoding": {"text": {"field": "t"}}},
    {"data": {"name": "bT"}, "transform": [{"filter": "datum.k === 'let'"}], "mark": {"type": "text", "align": "center", "baseline": "middle", "fontWeight": "bold", "fontSize": 16}, "encoding": {"text": {"field": "t"}}},
    {"data": {"name": "bT"}, "transform": [{"filter": "datum.k === 'num'"}], "mark": {"type": "text", "align": "center", "baseline": "middle", "angle": 270, "fontSize": 11}, "encoding": {"text": {"field": "t"}}}
   ]
  },
  {"width": 197, "height": 159,
   "encoding": {
    "x": {"field": "x", "type": "quantitative", "scale": {"domain": [538, 526], "nice": false, "zero": false}, "axis": {"title": "Binding Energy (eV)", "values": [538, 536, 534, 532, 530, 528, 526]}},
    "y": {"field": "y", "type": "quantitative", "scale": {"domain": [0, 159], "nice": false, "zero": false}, "axis": {"title": "Intensity (a.u.)"}}
   },
   "layer": [
    {"data": {"name": "c"}, "mark": {"type": "line", "strokeWidth": 2}, "encoding": {"color": {"field": "s", "type": "nominal", "scale": {"domain": ["base", "env", "blue", "red"], "range": ["#e020e0", "#111111", "#1818c0", "#ff1010"]}, "legend": null}}},
    {"data": {"name": "cD"}, "mark": {"type": "point", "shape": "circle", "filled": true, "size": 7, "color": "black", "opacity": 1}},
    {"data": {"name": "cT"}, "transform": [{"filter": "datum.k === 'lab'"}], "mark": {"type": "text", "align": "left", "baseline": "middle", "fontWeight": "bold", "fontSize": 10.5}, "encoding": {"text": {"field": "t"}}},
    {"data": {"name": "cT"}, "transform": [{"filter": "datum.k === 'let'"}], "mark": {"type": "text", "align": "center", "baseline": "middle", "fontWeight": "bold", "fontSize": 16}, "encoding": {"text": {"field": "t"}}},
    {"data": {"name": "cT"}, "transform": [{"filter": "datum.k === 'num'"}], "mark": {"type": "text", "align": "center", "baseline": "middle", "angle": 270, "fontSize": 11}, "encoding": {"text": {"field": "t"}}}
   ]
  }
 ], "spacing": 34, "bounds": "flush", "resolve": {"scale": {"color": "independent"}}},
 {"hconcat": [
  {"width": 206, "height": 169,
   "encoding": {
    "x": {"field": "x", "type": "quantitative", "scale": {"domain": [640, 610], "nice": false, "zero": false}, "axis": {"title": "Binding Energy (eV)", "values": [640, 635, 630, 625, 620, 615, 610]}},
    "y": {"field": "y", "type": "quantitative", "scale": {"domain": [0, 168], "nice": false, "zero": false}, "axis": {"title": "Intensity (a.u.)"}}
   },
   "layer": [
    {"data": {"name": "d"}, "mark": {"type": "line", "strokeWidth": 1.8}, "encoding": {"color": {"field": "s", "type": "nominal", "scale": {"domain": ["purple", "green", "blue1", "blue2", "pink", "env"], "range": ["#9a35c8", "#1f9e2a", "#1818d0", "#1818d0", "#ff22dd", "#a0101e"]}, "legend": null}}},
    {"data": {"name": "dT"}, "transform": [{"filter": "datum.k === 'lab'"}], "mark": {"type": "text", "align": "left", "baseline": "middle", "fontWeight": "bold", "fontSize": 10.5}, "encoding": {"text": {"field": "t"}}},
    {"data": {"name": "dT"}, "transform": [{"filter": "datum.k === 'let'"}], "mark": {"type": "text", "align": "center", "baseline": "middle", "fontWeight": "bold", "fontSize": 16}, "encoding": {"text": {"field": "t"}}},
    {"data": {"name": "dT"}, "transform": [{"filter": "datum.k === 'num'"}], "mark": {"type": "text", "align": "center", "baseline": "middle", "angle": 270, "fontSize": 11}, "encoding": {"text": {"field": "t"}}}
   ]
  },
  {"width": 197, "height": 161,
   "encoding": {
    "x": {"field": "x", "type": "quantitative", "scale": {"domain": [168, 154], "nice": false, "zero": false}, "axis": {"title": "Binding Energy (eV)", "values": [168, 166, 164, 162, 160, 158, 156, 154]}},
    "y": {"field": "y", "type": "quantitative", "scale": {"domain": [0, 160], "nice": false, "zero": false}, "axis": {"title": "Intensity (a.u.)"}}
   },
   "layer": [
    {"data": {"name": "e"}, "mark": {"type": "line", "strokeWidth": 1.8}, "encoding": {"color": {"field": "s", "type": "nominal", "scale": {"domain": ["green", "pink", "blue1", "red", "env"], "range": ["#1f8f2a", "#ff22dd", "#2020d0", "#ff1010", "#10109a"]}, "legend": null}, "strokeWidth": {"field": "s", "type": "nominal", "scale": {"domain": ["green", "pink", "blue1", "red", "env"], "range": [1.8, 1.8, 1.3, 1.8, 2.4]}, "legend": null}}},
    {"data": {"name": "eT"}, "transform": [{"filter": "datum.k === 'lab'"}], "mark": {"type": "text", "align": "left", "baseline": "middle", "fontWeight": "bold", "fontSize": 10.5}, "encoding": {"text": {"field": "t"}}},
    {"data": {"name": "eT"}, "transform": [{"filter": "datum.k === 'let'"}], "mark": {"type": "text", "align": "center", "baseline": "middle", "fontWeight": "bold", "fontSize": 16}, "encoding": {"text": {"field": "t"}}},
    {"data": {"name": "eT"}, "transform": [{"filter": "datum.k === 'num'"}], "mark": {"type": "text", "align": "center", "baseline": "middle", "angle": 270, "fontSize": 11}, "encoding": {"text": {"field": "t"}}}
   ]
  },
  {"width": 197, "height": 161,
   "encoding": {
    "x": {"field": "x", "type": "quantitative", "scale": {"domain": [409.5, 392], "nice": false, "zero": false}, "axis": {"title": "Binding Energy (eV)", "values": [408, 404, 400, 396, 392]}},
    "y": {"field": "y", "type": "quantitative", "scale": {"domain": [0, 160], "nice": false, "zero": false}, "axis": {"title": "Intensity (a.u.)"}}
   },
   "layer": [
    {"data": {"name": "f"}, "mark": {"type": "line", "strokeWidth": 1.6}, "encoding": {"color": {"field": "s", "type": "nominal", "scale": {"domain": ["Fe-nPPy", "BiOI-3"], "range": ["#ff2222", "#444444"]}, "legend": null}}},
    {"data": {"name": "fL"}, "mark": {"type": "rule", "color": "#3a3ab0", "strokeWidth": 2, "strokeDash": [2, 2]}, "encoding": {"y2": {"field": "y2"}}},
    {"data": {"name": "fT"}, "transform": [{"filter": "datum.k === 'lab'"}], "mark": {"type": "text", "align": "left", "baseline": "middle", "fontWeight": "bold", "fontSize": 11}, "encoding": {"text": {"field": "t"}}},
    {"data": {"name": "fT"}, "transform": [{"filter": "datum.k === 'let'"}], "mark": {"type": "text", "align": "center", "baseline": "middle", "fontWeight": "bold", "fontSize": 16}, "encoding": {"text": {"field": "t"}}},
    {"data": {"name": "fT"}, "transform": [{"filter": "datum.k === 'num'"}], "mark": {"type": "text", "align": "center", "baseline": "middle", "angle": 270, "fontSize": 11}, "encoding": {"text": {"field": "t"}}}
   ]
  }
 ], "spacing": 34, "bounds": "flush", "resolve": {"scale": {"color": "independent", "strokeWidth": "independent"}}}
]
}
